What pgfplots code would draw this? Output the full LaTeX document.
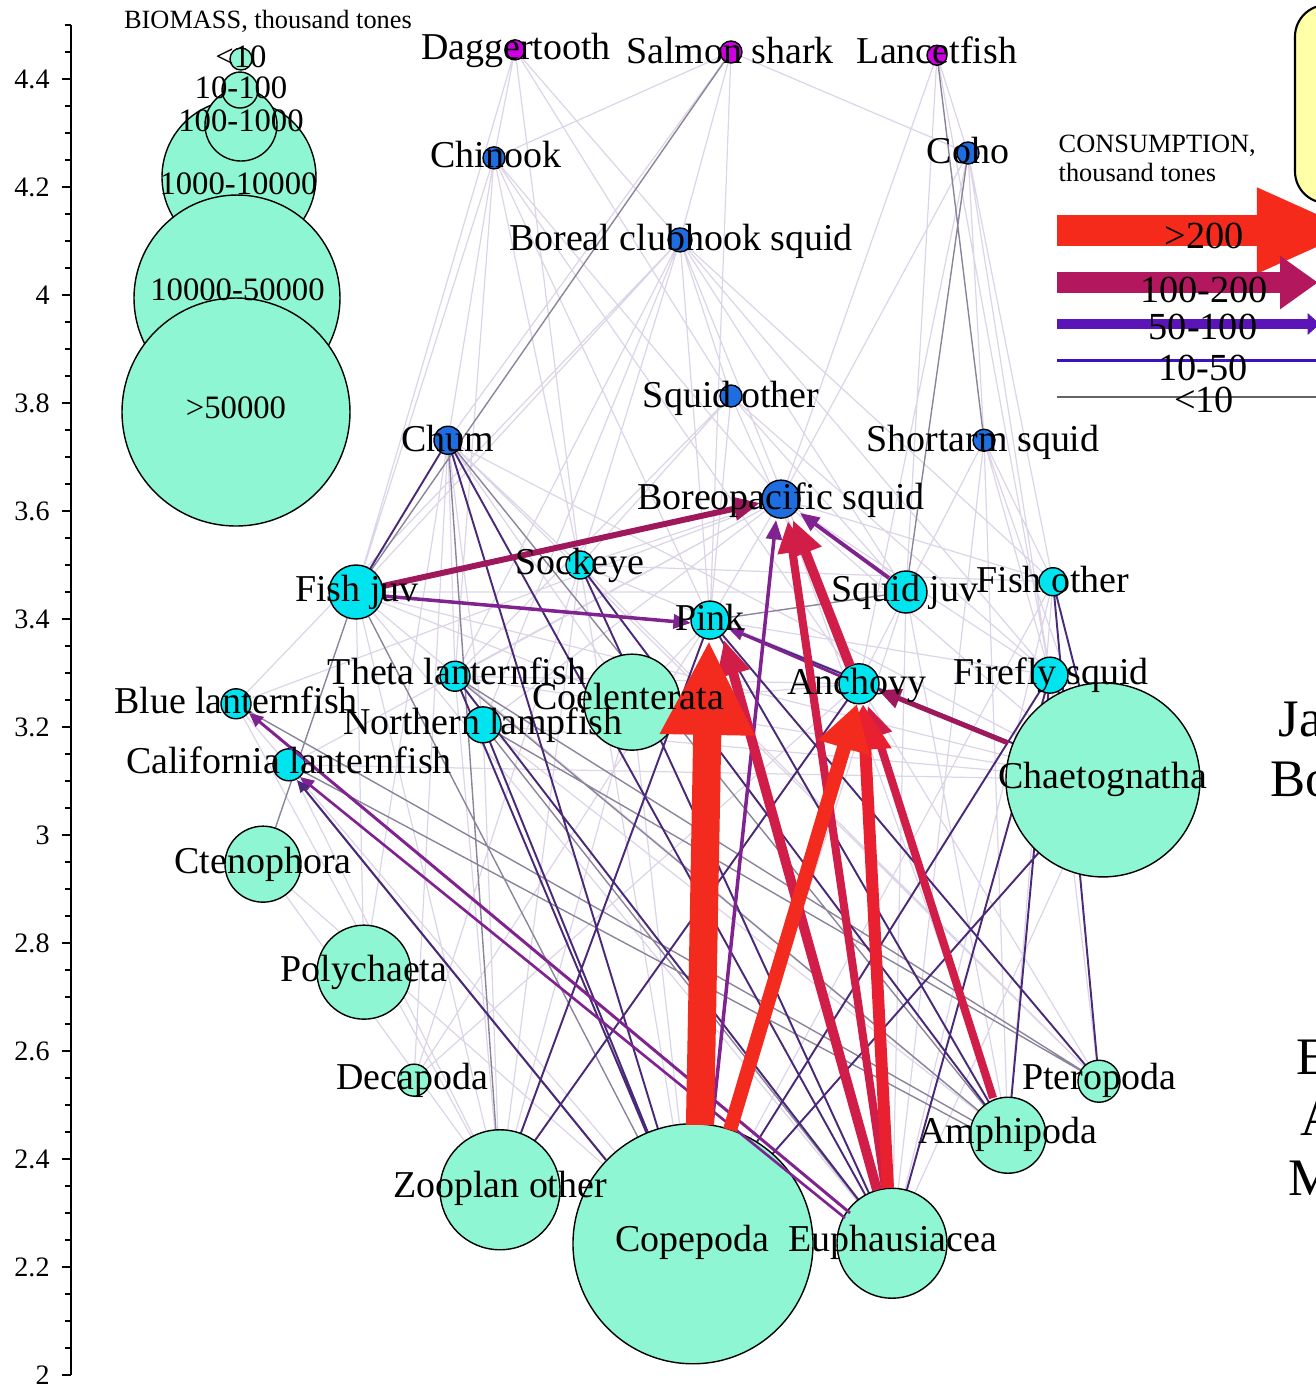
\documentclass[border=0pt]{standalone}
\usepackage{fontspec}
\setmainfont{Liberation Serif}
\usepackage{pgfplots}
\pgfplotsset{compat=1.18}
\usetikzlibrary{arrows.meta}
\definecolor{aqua}{RGB}{143,246,212}
\definecolor{cyn}{RGB}{0,228,240}
\definecolor{blu}{RGB}{30,110,225}
\definecolor{mag}{RGB}{205,0,225}
\definecolor{fnt}{RGB}{220,213,232}
\definecolor{gry}{RGB}{140,132,155}
\definecolor{dpur}{RGB}{74,42,120}
\definecolor{mpur}{RGB}{128,34,144}
\definecolor{crim}{RGB}{208,30,72}
\definecolor{dmag}{RGB}{160,24,92}
\definecolor{rd}{RGB}{243,42,30}
\definecolor{rd2}{RGB}{232,32,48}
\definecolor{Lred}{RGB}{245,42,26}
\definecolor{Lcrim}{RGB}{179,23,94}
\definecolor{Lpur}{RGB}{91,20,184}
\definecolor{Lblv}{RGB}{58,20,196}
\definecolor{Lgry}{RGB}{100,100,100}
\definecolor{ylw}{RGB}{255,255,168}
\newcommand{\nlf}{\fontsize{10.8}{13}\selectfont}
\newcommand{\lgf}{\fontsize{9.3}{11}\selectfont}
\newcommand{\ttf}{\fontsize{7.5}{9}\selectfont}
\newcommand{\cnf}{\fontsize{10.9}{13}\selectfont}
\newcommand{\rtf}{\fontsize{15}{18}\selectfont}
\newcommand{\lab}[4][\nlf]{\node[font=#1,anchor=base,inner sep=0pt] at (axis cs:#2,#3) {#4};}
\pgfplotsset{
  netnode/.style={scatter, only marks, mark=*,
    scatter/use mapped color={draw=black, fill=#1, line width=0.4pt},
    visualization depends on={\thisrow{r}\as\rr},
    scatter/@pre marker code/.append style={/tikz/mark size=0.28453*\rr}},
}
\begin{document}
\begin{tikzpicture}
\begin{axis}[
  at={(0,0)}, anchor=south west,
  scale only axis, width=12.44cm, height=13.5cm,
  xmin=71, xmax=1315, ymin=2, ymax=4.5,
  axis x line=none, axis y line*=left,
  clip=false, clip mode=individual,
  ytick={2,2.2,2.4,2.6,2.8,3,3.2,3.4,3.6,3.8,4,4.2,4.4},
  minor ytick={2.05,2.1,2.15,2.25,2.3,2.35,2.45,2.5,2.55,2.65,2.7,2.75,2.85,2.9,2.95,3.05,3.1,3.15,3.25,3.3,3.35,3.45,3.5,3.55,3.65,3.7,3.75,3.85,3.9,3.95,4.05,4.1,4.15,4.25,4.3,4.35,4.45,4.5},
  tick align=outside, major tick length=0.09cm, minor tick length=0.06cm,
  every tick/.style={black, line width=0.5pt},
  axis line style={black, line width=0.6pt},
  yticklabel style={font=\fontsize{8}{10}\selectfont, /pgf/number format/assume math mode=true},
  /pgf/number format/fixed,
]
% ---- faint edges (<10)
\addplot[fnt, line width=0.35pt, unbounded coords=jump] coordinates {
(515,4.454)(680,4.102) (nan,nan) (515,4.454)(356,3.450) (nan,nan) (515,4.454)(731,3.813) (nan,nan)
(515,4.454)(580,3.500) (nan,nan) (515,4.454)(494,4.254) (nan,nan) (731,4.450)(494,4.254) (nan,nan)
(731,4.450)(448,3.731) (nan,nan) (731,4.450)(968,4.263) (nan,nan) (731,4.450)(710,3.398) (nan,nan)
(731,4.450)(680,4.102) (nan,nan) (937,4.444)(1050,3.296) (nan,nan) (937,4.444)(906,3.450) (nan,nan)
(937,4.444)(781,3.622) (nan,nan) (937,4.444)(968,4.263) (nan,nan) (494,4.254)(356,3.450) (nan,nan)
(494,4.254)(580,3.500) (nan,nan) (494,4.254)(859,3.280) (nan,nan) (494,4.254)(710,3.398) (nan,nan)
(494,4.254)(781,3.622) (nan,nan) (494,4.254)(455,3.294) (nan,nan) (494,4.254)(448,3.731) (nan,nan)
(968,4.263)(1053,3.469) (nan,nan) (968,4.263)(859,3.280) (nan,nan) (968,4.263)(1050,3.296) (nan,nan)
(968,4.263)(781,3.622) (nan,nan) (968,4.263)(984,3.731) (nan,nan) (680,4.102)(710,3.398) (nan,nan)
(680,4.102)(859,3.280) (nan,nan) (680,4.102)(580,3.500) (nan,nan) (680,4.102)(356,3.450) (nan,nan)
(680,4.102)(906,3.450) (nan,nan) (680,4.102)(1050,3.296) (nan,nan) (680,4.102)(455,3.294) (nan,nan)
(680,4.102)(483,3.204) (nan,nan) (680,4.102)(236,3.243) (nan,nan) (680,4.102)(1053,3.469) (nan,nan)
(680,4.102)(731,3.813) (nan,nan) (731,3.813)(710,3.398) (nan,nan) (731,3.813)(859,3.280) (nan,nan)
(731,3.813)(1050,3.296) (nan,nan) (731,3.813)(906,3.450) (nan,nan) (731,3.813)(580,3.500) (nan,nan)
(731,3.813)(455,3.294) (nan,nan) (448,3.731)(455,3.294) (nan,nan) (448,3.731)(483,3.204) (nan,nan)
(448,3.731)(632,3.246) (nan,nan) (448,3.731)(364,2.746) (nan,nan) (448,3.731)(1103,3.102) (nan,nan)
(448,3.731)(1099,2.544) (nan,nan) (448,3.731)(414,2.546) (nan,nan) (448,3.731)(580,3.500) (nan,nan)
(984,3.731)(859,3.280) (nan,nan) (984,3.731)(1050,3.296) (nan,nan) (984,3.731)(1053,3.469) (nan,nan)
(984,3.731)(892,2.244) (nan,nan) (984,3.731)(1008,2.444) (nan,nan) (984,3.731)(1103,3.102) (nan,nan)
(984,3.731)(906,3.450) (nan,nan) (781,3.622)(710,3.398) (nan,nan) (781,3.622)(1050,3.296) (nan,nan)
(781,3.622)(1053,3.469) (nan,nan) (781,3.622)(483,3.204) (nan,nan) (781,3.622)(455,3.294) (nan,nan)
(781,3.622)(1008,2.444) (nan,nan) (781,3.622)(1103,3.102) (nan,nan) (781,3.622)(236,3.243) (nan,nan)
(781,3.622)(289,3.130) (nan,nan) (781,3.622)(580,3.500) (nan,nan) (356,3.450)(892,2.244) (nan,nan)
(356,3.450)(1008,2.444) (nan,nan) (356,3.450)(500,2.343) (nan,nan) (356,3.450)(632,3.246) (nan,nan)
(356,3.450)(906,3.450) (nan,nan) (356,3.450)(1103,3.102) (nan,nan) (356,3.450)(364,2.746) (nan,nan)
(580,3.500)(892,2.244) (nan,nan) (580,3.500)(693,2.243) (nan,nan) (580,3.500)(500,2.343) (nan,nan)
(580,3.500)(1099,2.544) (nan,nan) (580,3.500)(414,2.546) (nan,nan) (580,3.500)(1103,3.102) (nan,nan)
(580,3.500)(1053,3.469) (nan,nan) (906,3.450)(892,2.244) (nan,nan) (906,3.450)(1008,2.444) (nan,nan)
(906,3.450)(693,2.243) (nan,nan) (1053,3.469)(1008,2.444) (nan,nan) (1053,3.469)(892,2.244) (nan,nan)
(1053,3.469)(693,2.243) (nan,nan) (710,3.398)(500,2.343) (nan,nan) (710,3.398)(632,3.246) (nan,nan)
(710,3.398)(414,2.546) (nan,nan) (710,3.398)(1103,3.102) (nan,nan) (710,3.398)(1050,3.296) (nan,nan)
(455,3.294)(892,2.244) (nan,nan) (455,3.294)(500,2.343) (nan,nan) (455,3.294)(1103,3.102) (nan,nan)
(455,3.294)(859,3.280) (nan,nan) (859,3.280)(632,3.246) (nan,nan) (859,3.280)(414,2.546) (nan,nan)
(859,3.280)(1099,2.544) (nan,nan) (1050,3.296)(1099,2.544) (nan,nan) (236,3.243)(693,2.243) (nan,nan)
(236,3.243)(500,2.343) (nan,nan) (483,3.204)(1008,2.444) (nan,nan) (483,3.204)(500,2.343) (nan,nan)
(483,3.204)(1103,3.102) (nan,nan) (483,3.204)(693,2.243) (nan,nan) (289,3.130)(500,2.343) (nan,nan)
(289,3.130)(1103,3.102) (nan,nan) (263,2.946)(500,2.343) (nan,nan) (263,2.946)(693,2.243) (nan,nan)
(632,3.246)(693,2.243) (nan,nan) (632,3.246)(500,2.343) (nan,nan) (1103,3.102)(892,2.244)
};
% ---- thin grey edges
\addplot[gry, line width=0.4pt, unbounded coords=jump] coordinates {
(731,4.450)(356,3.450) (nan,nan) (356,3.450)(263,2.946) (nan,nan) (975,2.4685)(250,3.2278) (nan,nan)
(972,2.4574)(304,3.1167) (nan,nan) (448,3.731)(1008,2.444) (nan,nan) (937,4.444)(984,3.731) (nan,nan)
(968,4.263)(906,3.450) (nan,nan) (448,3.731)(500,2.343) (nan,nan) (455,3.294)(1008,2.444) (nan,nan)
(483,3.204)(892,2.244) (nan,nan) (1099,2.544)(455,3.294) (nan,nan) (710,3.398)(906,3.450) (nan,nan)
(356,3.450)(693,2.243) (nan,nan) (483,3.204)(1099,2.544)
};
% ---- thin dark purple edges
\addplot[dpur, line width=0.55pt, unbounded coords=jump] coordinates {
(693,2.243)(1050,3.296) (nan,nan) (892,2.244)(1050,3.296) (nan,nan) (500,2.343)(859,3.280) (nan,nan)
(500,2.343)(710,3.398) (nan,nan) (693,2.243)(455,3.294) (nan,nan) (1008,2.444)(710,3.398) (nan,nan)
(1099,2.544)(710,3.398) (nan,nan) (1103,3.102)(1050,3.296) (nan,nan) (1103,3.102)(1053,3.469) (nan,nan)
(1099,2.544)(1053,3.469) (nan,nan) (448,3.731)(693,2.243) (nan,nan) (448,3.731)(892,2.244) (nan,nan)
(356,3.450)(448,3.731) (nan,nan) (693,2.243)(483,3.204) (nan,nan) (892,2.244)(580,3.500) (nan,nan)
(1008,2.444)(1050,3.296) (nan,nan) (892,2.244)(455,3.294) (nan,nan) (1103,3.102)(693,2.243) (nan,nan)
(1008,2.444)(580,3.500) (nan,nan) (1103,3.102)(710,3.398)
};
% ---- nodes
\addplot[netnode=aqua] table {
x y r
632 3.246 48
1103 3.102 97
263 2.946 38
364 2.746 47
414 2.546 16
1099 2.544 21
1008 2.444 38
500 2.343 60
693 2.243 120
892 2.244 55
};
\addplot[netnode=cyn] table {
x y r
356 3.450 27
580 3.500 14
906 3.450 21
1053 3.469 14
710 3.398 19
455 3.294 15
859 3.280 20
1050 3.296 18
236 3.243 15
483 3.204 18
289 3.130 16
};
\addplot[netnode=blu] table {
x y r
494 4.254 11
968 4.263 11
680 4.102 12
731 3.813 11
448 3.731 14
984 3.731 11
781 3.622 19
};
\addplot[netnode=mag] table {
x y r
515 4.454 10
731 4.450 11
937 4.444 10
};
% ---- visible consumption arrows
\addplot[mpur, line width=0.85pt, -{Triangle[width=3.5pt,length=4pt]}] coordinates {(850,2.300)(249,3.2259)};
\addplot[mpur, line width=0.75pt, -{Triangle[width=3.5pt,length=4pt]}] coordinates {(845,2.2907)(300,3.1074)};
\addplot[dpur, line width=0.6pt, -{Triangle[width=3pt,length=3.5pt]}] coordinates {(606,2.3981)(297,3.1019)};
\addplot[mpur, line width=1pt, -{Triangle[width=4pt,length=5pt]}] coordinates {(383,3.4426)(691,3.3926)};
\addplot[mpur, line width=0.8pt, -{Triangle[width=3.5pt,length=4.5pt]}] coordinates {(840,3.2944)(728,3.3833)};
\addplot[mpur, line width=1.1pt, -{Triangle[width=4.5pt,length=5.5pt]}] coordinates {(889,3.4759)(800,3.5963)};
\addplot[mpur, line width=1pt, -{Triangle[width=4.5pt,length=5.5pt]}] coordinates {(712,2.4630)(776,3.5833)};
\addplot[dmag, line width=1.4pt, -{Triangle[width=5.5pt,length=6.5pt]}] coordinates {(1008,3.1704)(878,3.2685)};
\addplot[dmag, line width=1.7pt, -{Triangle[width=6.5pt,length=7.5pt]}] coordinates {(383,3.4611)(760,3.6148)};
\addplot[crim, line width=2.3pt, -{Triangle[width=8pt,length=9pt]}] coordinates {(885,2.3463)(788,3.5815)};
\addplot[crim, line width=2.8pt, -{Triangle[width=9pt,length=10pt]}] coordinates {(850,3.3130)(793,3.5833)};
\addplot[crim, line width=2.8pt, -{Triangle[width=9pt,length=10pt]}] coordinates {(877,2.3426)(724,3.3611)};
\addplot[crim, line width=2.3pt, -{Triangle[width=8pt,length=9pt]}] coordinates {(993,2.5130)(868,3.2389)};
\addplot[rd2, line width=3.4pt, -{Triangle[width=14pt,length=13pt]}] coordinates {(888,2.3463)(863,3.2426)};
\addplot[rd, line width=4pt, -{Triangle[width=14.5pt,length=13pt]}] coordinates {(730,2.4537)(857,3.2426)};
\addplot[rd, line width=8pt, -{Triangle[width=25pt,length=27pt]}] coordinates {(700,2.4630)(709,3.3611)};
% ---- biomass legend
\addplot[netnode=aqua] table {
x y r
239 4.2185 77
241 4.3148 36
240 4.3796 18
241 4.4370 11
237 3.9944 103
236 3.7833 114
};
% ---- consumption legend
\draw[fill=ylw, draw=black, line width=0.6pt, rounded corners=9pt] (axis cs:1295,4.5370) rectangle (axis cs:1420,4.1704);
\addplot[Lred, line width=8.8pt, -{Triangle[width=22.2pt,length=28.5pt]}] coordinates {(1057,4.1194)(1357,4.1194)};
\addplot[Lcrim, line width=6pt, -{Triangle[width=14.5pt,length=10.8pt]}] coordinates {(1057,4.0231)(1318,4.0231)};
\addplot[Lpur, line width=2.8pt, -{Triangle[width=6pt,length=3.5pt]}] coordinates {(1057,3.9463)(1320,3.9463)};
\addplot[Lblv, line width=0.85pt] coordinates {(1057,3.8778)(1330,3.8778)};
\addplot[Lgry, line width=0.35pt] coordinates {(1057,3.8111)(1330,3.8111)};
% ---- labels
\lab[\ttf]{268}{4.4944}{BIOMASS, thousand tones}
\lab[\lgf]{241}{4.4222}{<10}
\lab[\lgf]{241}{4.3648}{10-100}
\lab[\lgf]{241}{4.3019}{100-1000}
\lab[\lgf]{238.5}{4.1852}{1000-10000}
\lab[\lgf]{237.5}{3.9907}{10000-50000}
\lab[\lgf]{236}{3.7722}{>50000}
\node[font=\ttf,anchor=base west,inner sep=0pt] at (axis cs:1058,4.2630) {CONSUMPTION,};
\node[font=\ttf,anchor=base west,inner sep=0pt] at (axis cs:1058,4.2111) {thousand tones};
\lab[\cnf]{1204}{4.0870}{>200}
\lab[\cnf]{1204}{3.9870}{100-200}
\lab[\cnf]{1203}{3.9167}{50-100}
\lab[\cnf]{1203}{3.8426}{10-50}
\lab[\cnf]{1204}{3.7815}{<10}
\lab{516}{4.4352}{Daggertooth}
\lab{730}{4.4278}{Salmon shark}
\lab{937}{4.4278}{Lancetfish}
\lab{496}{4.2352}{Chinook}
\lab{968}{4.2444}{Coho}
\lab{681}{4.0833}{Boreal clubhook squid}
\lab{731}{3.7926}{Squid other}
\lab{448}{3.7111}{Chum}
\lab{983}{3.7111}{Shortarm squid}
\lab{781}{3.6037}{Boreopacific squid}
\lab{580}{3.4833}{Sockeye}
\lab{357}{3.4315}{Fish juv}
\lab{905}{3.4315}{Squid juv}
\lab{1053}{3.4500}{Fish other}
\lab{710}{3.3796}{Pink}
\lab{457}{3.2778}{Theta lanternfish}
\lab{857}{3.2593}{Anchovy}
\lab{1051}{3.2796}{Firefly squid}
\lab{236}{3.2259}{Blue lanternfish}
\lab{628}{3.2315}{Coelenterata}
\lab{483}{3.1852}{Northern lampfish}
\lab{289}{3.1148}{California lanternfish}
\lab{1103}{3.0852}{Chaetognatha}
\lab{263}{2.9278}{Ctenophora}
\lab{364}{2.7278}{Polychaeta}
\lab{412}{2.5278}{Decapoda}
\lab{1099}{2.5278}{Pteropoda}
\lab{1008}{2.4278}{Amphipoda}
\lab{500}{2.3278}{Zooplan other}
\lab{692}{2.2278}{Copepoda}
\lab{893}{2.2278}{Euphausiacea}
\node[font=\rtf,anchor=base west,inner sep=0pt] at (axis cs:1278,3.1815) {Ja};
\node[font=\rtf,anchor=base west,inner sep=0pt] at (axis cs:1270,3.0704) {Bo};
\node[font=\rtf,anchor=base west,inner sep=0pt] at (axis cs:1296,2.5556) {E};
\node[font=\rtf,anchor=base west,inner sep=0pt] at (axis cs:1300,2.4444) {A};
\node[font=\rtf,anchor=base west,inner sep=0pt] at (axis cs:1288,2.3333) {M};
\end{axis}
\pgfresetboundingbox
\useasboundingbox (-0.71cm,-0.15cm) rectangle (12.44cm,13.75cm);
\end{tikzpicture}
\end{document}
